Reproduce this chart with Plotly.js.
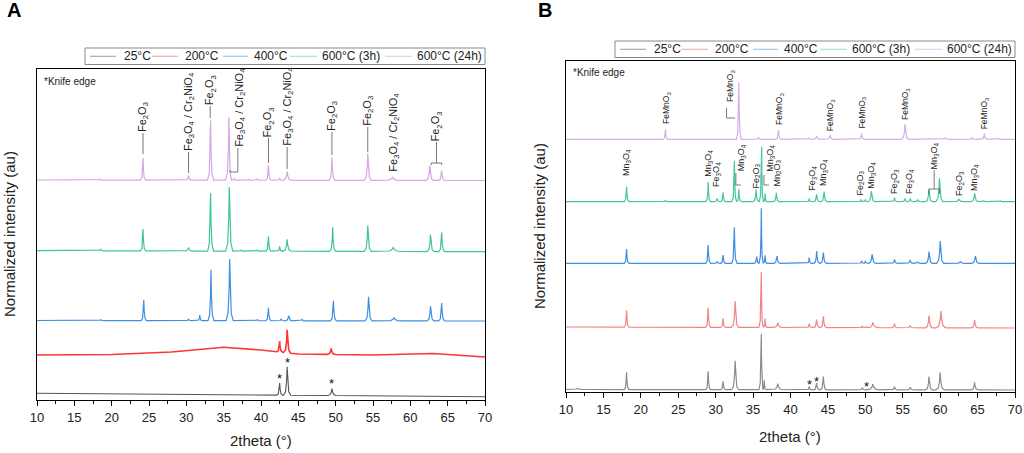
<!DOCTYPE html>
<html><head><meta charset="utf-8">
<script src="https://cdn.plot.ly/plotly-3.0.1.min.js"></script>
<style>html,body{margin:0;padding:0;background:#fff}#c{width:1024px;height:453px}</style>
</head><body><div id="c"></div>
<script>
// ---------- DATA (y in arbitrary normalized units) ----------
const seriesNames = ['25°C', '200°C', '400°C', '600°C (3h)', '600°C (24h)'];
const xTicks = [10, 15, 20, 25, 30, 35, 40, 45, 50, 55, 60, 65, 70];

// Panel A
const A25_baseX = [10, 70];            const A25_baseY = [6.7, 3.3];
const A25_pos = [42.5, 43.5, 49.5];    const A25_h = [12, 28.5, 7];     const A25_w = [0.25, 0.3, 0.35];

const A200_baseX = [10, 20, 28, 35, 40, 45, 55, 63, 70];
const A200_baseY = [45, 45.5, 48, 52.7, 50, 46, 45, 46.5, 43];
const A200_pos = [42.5, 43.5, 49.4];   const A200_h = [11, 23, 6];      const A200_w = [0.25, 0.3, 0.35];

const A400_baseX = [10, 70];           const A400_baseY = [79.5, 79];
const A400_pos = [18.5, 24.3, 30.3, 31.8, 33.3, 35.8, 39.5, 41.0, 42.7, 43.7, 45.5, 49.7, 54.4, 57.8, 62.7, 64.2];
const A400_h   = [0.8, 20.7, 1.5, 5.7, 51, 61.7, 1, 13, 2, 5, 1.5, 20, 24, 3, 14.7, 18];
const A400_w   = [0.3, 0.22, 0.3, 0.2, 0.25, 0.3, 0.3, 0.22, 0.2, 0.3, 0.2, 0.25, 0.3, 0.6, 0.3, 0.25];

const A3h_baseX = [10, 70];            const A3h_baseY = [149.3, 148.3];
const A3h_pos = [18.5, 24.2, 30.3, 33.25, 35.75, 37.3, 39.5, 41.0, 42.5, 43.5, 49.6, 54.3, 57.7, 62.7, 64.2];
const A3h_h   = [1.5, 22, 3.5, 58, 64, 1, 1, 15, 5, 12, 24, 26, 4, 17, 19];
const A3h_w   = [0.3, 0.22, 0.35, 0.25, 0.3, 0.3, 0.3, 0.22, 0.2, 0.35, 0.25, 0.3, 0.7, 0.3, 0.25];

const A24_baseX = [10, 70];            const A24_baseY = [220, 219.5];
const A24_pos = [18.3, 24.2, 30.3, 33.25, 35.7, 36.4, 38.3, 39.5, 41.0, 42.5, 43.5, 49.5, 54.3, 57.6, 62.6, 64.2];
const A24_h   = [1, 22, 4.5, 60, 63, 1.5, 0.8, 1.5, 15, 2.5, 9, 23, 27, 3, 15, 10];
const A24_w   = [0.3, 0.22, 0.3, 0.25, 0.28, 0.2, 0.3, 0.3, 0.22, 0.2, 0.35, 0.25, 0.3, 0.7, 0.3, 0.25];

// Panel B
const B25_baseX = [10, 70];            const B25_baseY = [2.5, 2];
const B25_pos = [11.5, 18.1, 29.0, 31.0, 32.6, 36.1, 36.5, 38.3, 42.5, 43.5, 44.4, 49.6, 51.0, 53.9, 56.0, 58.5, 60.0, 64.6];
const B25_h   = [1, 17.3, 18.3, 8.3, 29, 55.7, 9.3, 6, 3.3, 6.7, 13.3, 2, 5.7, 3.3, 2.7, 13.3, 17.3, 7.7];
const B25_w   = [0.6, 0.2, 0.2, 0.2, 0.3, 0.2, 0.15, 0.4, 0.2, 0.25, 0.25, 0.3, 0.5, 0.25, 0.3, 0.28, 0.35, 0.3];

const B200_baseX = [10, 70];           const B200_baseY = [65, 64];
const B200_pos = [18.1, 29.0, 31.0, 32.6, 36.1, 36.6, 38.3, 42.5, 43.5, 44.4, 49.6, 50.1, 51.0, 53.9, 56.0, 58.5, 60.1, 64.6];
const B200_h   = [16.7, 19.7, 9, 26.3, 55.7, 9, 4.7, 4, 8, 11.3, 2, 1.3, 5.3, 4, 2.3, 12.3, 16.7, 8];
const B200_w   = [0.2, 0.2, 0.2, 0.3, 0.2, 0.15, 0.4, 0.2, 0.25, 0.25, 0.2, 0.2, 0.5, 0.25, 0.3, 0.28, 0.4, 0.3];

const B400_baseX = [10, 70];           const B400_baseY = [128.7, 128.7];
const B400_pos = [18.1, 29.0, 30.2, 31.0, 32.5, 35.5, 36.1, 36.6, 38.2, 42.5, 43.5, 44.4, 49.5, 50.0, 50.9, 53.9, 56.0, 57.0, 58.5, 60.0, 62.7, 64.7, 67.8];
const B400_h   = [14.3, 18.3, 1.7, 8.3, 36, 6.7, 55, 8, 7.3, 5.7, 12.3, 10.7, 2.7, 2.3, 9, 4, 3.3, 1.3, 11.7, 22.3, 1.7, 7.3, 0.7];
const B400_w   = [0.2, 0.2, 0.25, 0.2, 0.22, 0.25, 0.2, 0.15, 0.25, 0.2, 0.25, 0.25, 0.2, 0.2, 0.3, 0.25, 0.25, 0.3, 0.28, 0.3, 0.4, 0.3, 0.3];

const B3h_baseX = [10, 70];            const B3h_baseY = [190.3, 190.3];
const B3h_pos = [18.1, 23.3, 29.0, 30.2, 31.0, 32.5, 33.1, 35.4, 36.15, 36.6, 38.1, 42.5, 43.5, 44.5, 49.4, 50.0, 50.8, 53.9, 55.3, 56.0, 57.0, 58.5, 59.9, 62.5, 64.6, 65.8, 68.0];
const B3h_h   = [15, 1.7, 20, 3.3, 9.3, 40.7, 12.3, 12.3, 55, 8.3, 9, 3.3, 7.3, 10, 2.3, 2.3, 10.7, 4, 3.3, 3.3, 2.3, 12.3, 23.3, 2.7, 8.3, 1, 1];
const B3h_w   = [0.2, 0.2, 0.2, 0.25, 0.2, 0.2, 0.2, 0.25, 0.2, 0.15, 0.25, 0.2, 0.25, 0.25, 0.2, 0.2, 0.3, 0.25, 0.25, 0.25, 0.3, 0.28, 0.3, 0.4, 0.3, 0.3, 0.3];

const B24_baseX = [10, 70];            const B24_baseY = [252.7, 252.7];
const B24_pos = [23.3, 33.1, 35.7, 38.4, 42.4, 43.5, 45.3, 49.5, 55.3, 60.7, 64.3, 65.9, 67.7];
const B24_h   = [10, 56.7, 2, 9.3, 1.5, 3.3, 4.3, 6, 15.3, 1.5, 1.7, 6, 1.3];
const B24_w   = [0.2, 0.2, 0.25, 0.22, 0.3, 0.3, 0.3, 0.25, 0.3, 0.3, 0.3, 0.25, 0.3];

// Phase labels
const A_lblText = ['Fe<sub>2</sub>O<sub>3</sub>', 'Fe<sub>3</sub>O<sub>4</sub> / Cr<sub>2</sub>NiO<sub>4</sub>', 'Fe<sub>2</sub>O<sub>3</sub>',
  'Fe<sub>3</sub>O<sub>4</sub> / Cr<sub>2</sub>NiO<sub>4</sub>', 'Fe<sub>2</sub>O<sub>3</sub>', 'Fe<sub>3</sub>O<sub>4</sub> / Cr<sub>2</sub>NiO<sub>4</sub>',
  'Fe<sub>2</sub>O<sub>3</sub>', 'Fe<sub>2</sub>O<sub>3</sub>', 'Fe<sub>3</sub>O<sub>4</sub> / Cr<sub>2</sub>NiO<sub>4</sub>', 'Fe<sub>2</sub>O<sub>3</sub>'];
const A_lblX = [24.2, 30.3, 33.2, 37.1, 41.0, 43.5, 49.5, 54.3, 57.7, 63.5];
const A_lblY = [267, 248, 294, 252, 262, 253, 268, 273, 227, 258];

const FM = 'FeMnO<sub>3</sub>', MN = 'Mn<sub>3</sub>O<sub>4</sub>', F3 = 'Fe<sub>3</sub>O<sub>4</sub>', F2 = 'Fe<sub>2</sub>O<sub>3</sub>', M2 = 'Mn<sub>2</sub>O<sub>3</sub>';
const B_topText = [FM, FM, FM, FM, FM, FM, FM];
const B_topX = [23.35, 31.9, 38.45, 45.3, 49.5, 55.3, 65.9];
const B_topY = [267, 289, 266, 260, 262, 271, 262];
const B_midText = [MN, MN, F3, MN, F2, MN, M2, F3, MN, F2, MN, F2, F3, MN, F2, MN];
const B_midX = [18.1, 29.0, 30.1, 33.5, 35.4, 37.3, 38.2, 42.9, 44.4, 49.3, 50.8, 53.9, 55.9, 59.3, 62.6, 64.6];
const B_midY = [215, 214, 204, 220, 202, 219, 204, 200, 205, 195, 202, 197, 197, 222, 195, 200];

// ---------- build traces ----------
const WSCALE = 1.6;
function baseAt(bx, by, x) {
  if (x <= bx[0]) return by[0];
  for (let i = 1; i < bx.length; i++) {
    if (x <= bx[i]) { const t = (x - bx[i-1]) / (bx[i] - bx[i-1]); return by[i-1] + t * (by[i] - by[i-1]); }
  }
  return by[by.length - 1];
}
function profile(bx, by, pos, h, w) {
  const idx = pos.map((p, i) => i).sort((a, b) => pos[a] - pos[b]);
  const pts = [], ranges = [];
  const fx = [1, 0.45, 0.15, 0];
  const fy = [0, 0.12, 0.5, 1];
  let prevR = -1e9;
  idx.forEach((i, k) => {
    const p = pos[i], ww = w[i] * WSCALE;
    const next = k + 1 < idx.length ? pos[idx[k + 1]] : 1e9;
    const l = Math.max(p - ww, prevR);
    const r = Math.min(p + ww, (p + next) / 2);
    for (let j = 0; j < 4; j++) { const x = p - fx[j] * (p - l); pts.push([x, baseAt(bx, by, x) + fy[j] * h[i]]); }
    for (let j = 2; j >= 0; j--) { const x = p + fx[j] * (r - p); pts.push([x, baseAt(bx, by, x) + fy[j] * h[i]]); }
    ranges.push([l, r]);
    prevR = r;
  });
  bx.forEach((x, k) => { if (!ranges.some(rg => x >= rg[0] && x <= rg[1])) pts.push([x, by[k]]); });
  pts.sort((a, b) => a[0] - b[0]);
  return { x: pts.map(p => p[0]), y: pts.map(p => p[1]) };
}

const colA = ['#555555', '#ff3535', '#3d8fe0', '#3cc59b', '#d6a6e6'];
const colB = ['#8c8c8c', '#f08585', '#3f8fdf', '#45c79c', '#d9aee8'];
const legCol = ['#9a9a9a', '#f3a0a0', '#8fbde8', '#9fdcc4', '#e2c0ec'];
const widA = [1.1, 1.6, 1.2, 1.2, 1.2];
const setsA = [
  [A25_baseX, A25_baseY, A25_pos, A25_h, A25_w], [A200_baseX, A200_baseY, A200_pos, A200_h, A200_w],
  [A400_baseX, A400_baseY, A400_pos, A400_h, A400_w], [A3h_baseX, A3h_baseY, A3h_pos, A3h_h, A3h_w],
  [A24_baseX, A24_baseY, A24_pos, A24_h, A24_w]];
const setsB = [
  [B25_baseX, B25_baseY, B25_pos, B25_h, B25_w], [B200_baseX, B200_baseY, B200_pos, B200_h, B200_w],
  [B400_baseX, B400_baseY, B400_pos, B400_h, B400_w], [B3h_baseX, B3h_baseY, B3h_pos, B3h_h, B3h_w],
  [B24_baseX, B24_baseY, B24_pos, B24_h, B24_w]];

const traces = [];
setsA.forEach((s, i) => {
  const p = profile(...s);
  traces.push({ x: p.x, y: p.y, type: 'scatter', mode: 'lines', name: seriesNames[i], xaxis: 'x', yaxis: 'y',
    line: { color: colA[i], width: widA[i] }, showlegend: false, hoverinfo: 'skip' });
});
setsB.forEach((s, i) => {
  const p = profile(...s);
  traces.push({ x: p.x, y: p.y, type: 'scatter', mode: 'lines', name: seriesNames[i], xaxis: 'x2', yaxis: 'y2',
    line: { color: colB[i], width: 1.2 }, showlegend: false, hoverinfo: 'skip' });
});

// ---------- annotations ----------
const FONT = 'Arial, "Liberation Sans", sans-serif';
const ann = [];
const shapes = [];
A_lblText.forEach((t, i) => ann.push({ text: t, x: A_lblX[i], y: A_lblY[i], xref: 'x', yref: 'y', textangle: -90,
  xanchor: 'center', yanchor: 'bottom', showarrow: false, font: { family: FONT, size: 11, color: '#222' }, borderpad: 0 }));
B_topText.forEach((t, i) => ann.push({ text: t, x: B_topX[i], y: B_topY[i], xref: 'x2', yref: 'y2', textangle: -90,
  xanchor: 'center', yanchor: 'bottom', showarrow: false, font: { family: FONT, size: 8.5, color: '#222' }, borderpad: 0 }));
B_midText.forEach((t, i) => ann.push({ text: t, x: B_midX[i], y: B_midY[i], xref: 'x2', yref: 'y2', textangle: -90,
  xanchor: 'center', yanchor: 'bottom', showarrow: false, font: { family: FONT, size: 9, color: '#222' }, borderpad: 0 }));

// asterisks
[[42.5, 22], [43.6, 38], [49.5, 17]].forEach(a => ann.push({ text: '*', x: a[0], y: a[1], xref: 'x', yref: 'y',
  showarrow: false, yanchor: 'middle', font: { family: FONT, size: 13, color: '#111' } }));
[[42.5, 8], [43.5, 11], [50.1, 6]].forEach(a => ann.push({ text: '*', x: a[0], y: a[1], xref: 'x2', yref: 'y2',
  showarrow: false, yanchor: 'middle', font: { family: FONT, size: 13, color: '#111' } }));

// paper texts
function ptxt(t, px, py, opts) {
  ann.push(Object.assign({ text: t, x: px / 1024, y: 1 - py / 453, xref: 'paper', yref: 'paper', xanchor: 'left', yanchor: 'middle',
    showarrow: false, font: { family: FONT, size: 12, color: '#222' } }, opts || {}));
}
ptxt('<b>A</b>', 5, 10, { font: { family: FONT, size: 20, color: '#000' } });
ptxt('<b>B</b>', 536, 10, { font: { family: FONT, size: 20, color: '#000' } });
ptxt('*Knife edge', 42, 81, { font: { family: FONT, size: 10, color: '#222' } });
ptxt('*Knife edge', 571, 73, { font: { family: FONT, size: 10, color: '#222' } });
ptxt('Normalized intensity (au)', 9, 234, { textangle: -90, xanchor: 'center', font: { family: FONT, size: 15, color: '#222' } });
ptxt('Normalized intensity (au)', 539, 226, { textangle: -90, xanchor: 'center', font: { family: FONT, size: 15, color: '#222' } });
ptxt('2theta (°)', 261, 440, { xanchor: 'center', font: { family: FONT, size: 15, color: '#222' } });
ptxt('2theta (°)', 790, 436, { xanchor: 'center', font: { family: FONT, size: 15, color: '#222' } });

// legends (drawn as boxes + line samples + texts)
const legLineStart = [5, 66.7, 138, 205, 300];
const legLineEnd = [31, 93, 163, 232, 327];
const legTextStart = [36.5, 98, 167, 235, 330];
function legend(L, R, T, B) {
  shapes.push({ type: 'rect', xref: 'paper', yref: 'paper', x0: L / 1024, x1: R / 1024, y0: 1 - B / 453, y1: 1 - T / 453,
    line: { color: '#8a8a8a', width: 1 }, fillcolor: '#fff' });
  const cy = (T + B) / 2;
  seriesNames.forEach((n, i) => {
    shapes.push({ type: 'line', xref: 'paper', yref: 'paper', x0: (L + legLineStart[i]) / 1024, x1: (L + legLineEnd[i]) / 1024,
      y0: 1 - cy / 453, y1: 1 - cy / 453, line: { color: legCol[i], width: 1 } });
    ptxt(n, L + legTextStart[i], cy, { font: { family: FONT, size: 12, color: '#222' } });
  });
}
legend(85, 485, 48, 64.5);
legend(615, 1015, 41, 57.5);

// ---------- connector lines ----------
const LC = { color: '#555', width: 0.8 };
function vl(xr, yr, x, y0, y1) { shapes.push({ type: 'line', xref: xr, yref: yr, x0: x, x1: x, y0: y0, y1: y1, line: LC }); }
function pth(xr, yr, d) { shapes.push({ type: 'path', xref: xr, yref: yr, path: d, line: LC }); }
vl('x', 'y', 24.2, 267, 246); vl('x', 'y', 30.3, 248, 227); vl('x', 'y', 33.2, 294, 282);
pth('x', 'y', 'M 36.9 252 L 36.9 228 L 35.85 228 L 35.85 230');
vl('x', 'y', 41.0, 262, 237); vl('x', 'y', 43.5, 253, 231); vl('x', 'y', 49.5, 268, 245); vl('x', 'y', 54.3, 273, 248);
pth('x', 'y', 'M 63.5 258 L 63.5 237 M 62.8 235 L 62.8 237 L 64.2 237 L 64.2 235');
pth('x2', 'y2', 'M 31.45 284 L 31.45 274 L 32.6 274');
pth('x2', 'y2', 'M 32.7 219 L 32.7 207 L 33.35 207');
pth('x2', 'y2', 'M 36.45 217 L 36.45 207 L 37.1 207');
pth('x2', 'y2', 'M 59.2 222 L 59.2 203 M 58.5 198 L 58.5 203 L 59.9 203 L 59.9 198');

// ---------- layout ----------
const axisX = { range: [10, 70], tickvals: xTicks, ticks: 'outside', ticklen: 5, tickwidth: 1, tickcolor: '#000',
  showline: true, mirror: true, linecolor: '#000', linewidth: 1, showgrid: false, zeroline: false,
  tickfont: { family: FONT, size: 13, color: '#222' },
  minor: { dtick: 2.5, ticks: 'outside', ticklen: 3, tickcolor: '#000', showgrid: false } };
const axisY = { range: [0, 331], showticklabels: false, ticks: '', showline: true, mirror: true, linecolor: '#000',
  linewidth: 1, showgrid: false, zeroline: false };

const layout = {
  width: 1024, height: 453, margin: { l: 0, r: 0, t: 0, b: 0 }, paper_bgcolor: '#fff', plot_bgcolor: '#fff',
  showlegend: false,
  xaxis: Object.assign({}, axisX, { domain: [37 / 1024, 485 / 1024], anchor: 'y' }),
  yaxis: Object.assign({}, axisY, { domain: [53 / 453, 384 / 453], anchor: 'x' }),
  xaxis2: Object.assign({}, axisX, { domain: [566 / 1024, 1015 / 1024], anchor: 'y2' }),
  yaxis2: Object.assign({}, axisY, { domain: [61 / 453, 392 / 453], anchor: 'x2' }),
  annotations: ann, shapes: shapes
};
Plotly.newPlot('c', traces, layout, { staticPlot: true, displayModeBar: false });
</script></body></html>
